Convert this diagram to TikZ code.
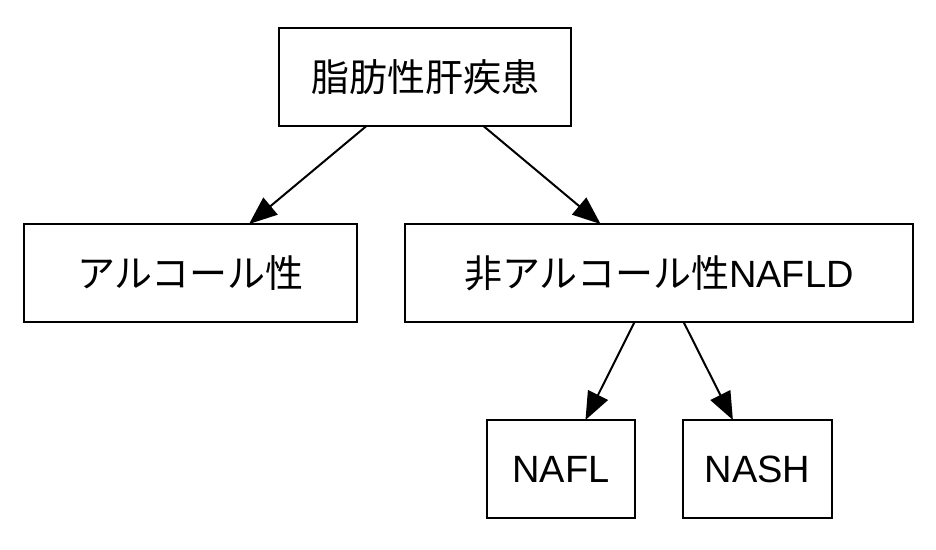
\documentclass[tikz,border=0pt]{standalone}
\usepackage{fontspec}
\setmainfont{Liberation Sans}
\newfontfamily\cjk{Noto Sans CJK JP}
\usetikzlibrary{arrows.meta}
\begin{document}
\begin{tikzpicture}[x=1pt,y=-1pt,
  box/.style={draw,line width=2pt,minimum height=98pt,inner sep=0pt,outer sep=0pt,font=\fontsize{38}{45}\selectfont},
  conn/.style={line width=2pt,-{Triangle[length=28pt,width=22pt]}}]
\useasboundingbox (0,0) rectangle (936,549);
\node[box,minimum width=292pt] (top) at (425,77) {\cjk 脂肪性肝疾患};
\node[box,minimum width=333pt] (alc) at (190.5,273) {\cjk アルコール性};
\node[box,minimum width=508pt] (non) at (659,273) {{\cjk 非アルコール性}NAFLD};
\node[box,minimum width=148pt] (nafl) at (561,469) {NAFL};
\node[box,minimum width=149pt] (nash) at (757.5,469) {NASH};
\draw[conn] (top) -- (alc);
\draw[conn] (top) -- (non);
\draw[conn] (non) -- (nafl);
\draw[conn] (non) -- (nash);
\end{tikzpicture}
\end{document}
